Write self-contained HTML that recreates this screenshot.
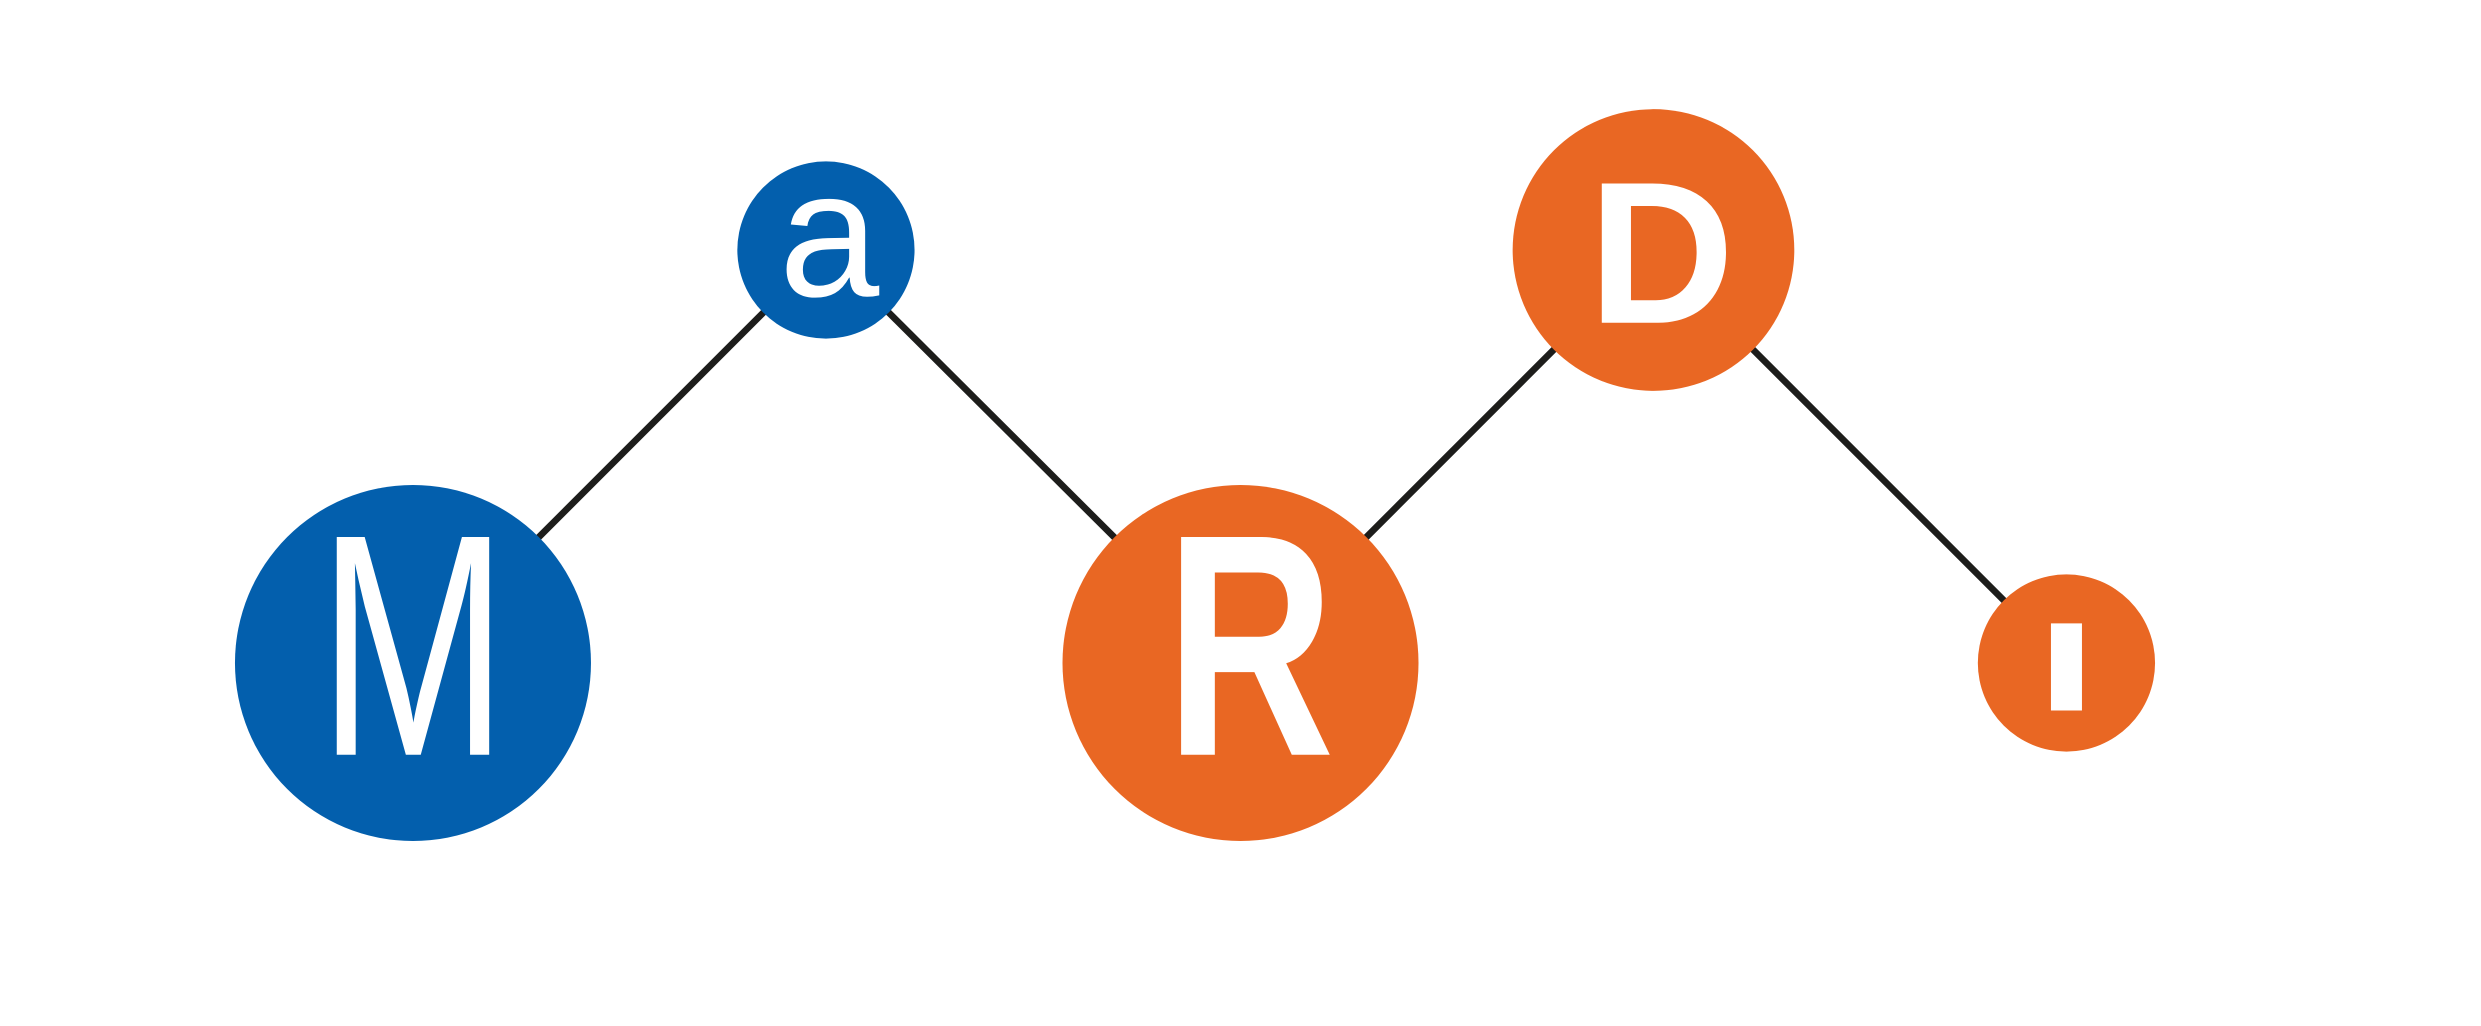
<!DOCTYPE html>
<html><head><style>html,body{margin:0;padding:0;background:#fff;overflow:hidden}svg{display:block}</style></head>
<body>
<svg width="2481" height="1026" viewBox="0 0 1568 648.4" preserveAspectRatio="none" xmlns="http://www.w3.org/2000/svg">
<g stroke="#1d1d1b" stroke-width="4.2" fill="none">
<line x1="261" y1="419" x2="522" y2="158"/>
<line x1="522" y1="158" x2="784" y2="419"/>
<line x1="784" y1="419" x2="1045" y2="158"/>
<line x1="1045" y1="158" x2="1306" y2="419"/>
</g>
<circle cx="261" cy="419" r="112.5" fill="#035FAD"/>
<circle cx="522" cy="158" r="56" fill="#035FAD"/>
<circle cx="784" cy="419" r="112.5" fill="#E96723"/>
<circle cx="1045" cy="158" r="89" fill="#E96723"/>
<circle cx="1306" cy="419" r="56" fill="#E96723"/>
<g fill="#fff" font-family="Liberation Sans, sans-serif" text-anchor="middle">
<text transform="translate(261,477) scale(0.72,1)" font-size="200">M</text>
<text x="524" y="187" font-size="114">a</text>
<text transform="translate(790,477) scale(0.74,1)" font-size="200" font-weight="bold">R</text>
<text x="1050" y="204" font-size="128" font-weight="bold">D</text>
<text transform="translate(1306,449) scale(1.7,1)" font-size="80" font-weight="bold">I</text>
</g>
</svg>
</body></html>
